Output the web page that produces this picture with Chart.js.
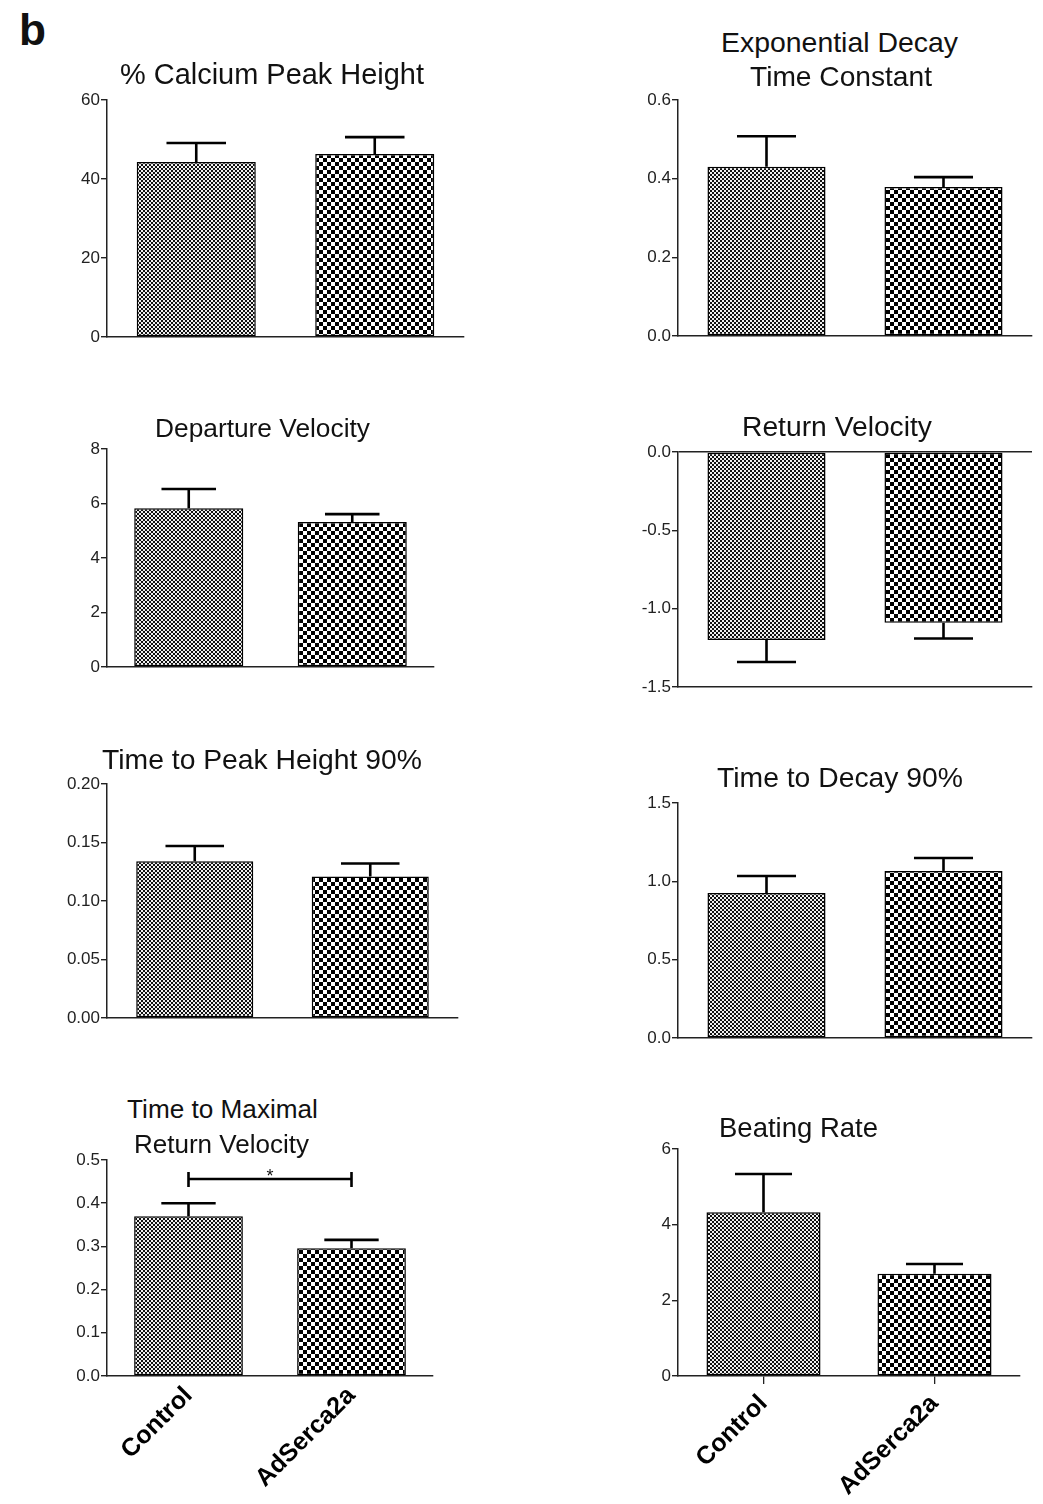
<!DOCTYPE html>
<html>
<head>
<meta charset="utf-8">
<script src="https://cdn.jsdelivr.net/npm/chart.js@4/dist/chart.umd.min.js"></script>
<style>
  html, body { margin: 0; padding: 0; background: #fff; }
  #stage { position: relative; width: 1043px; height: 1504px; overflow: hidden; background: #fff; }
  .txt { position: absolute; white-space: nowrap; text-align: center; font-family: "Liberation Sans", Arial, Helvetica, sans-serif; color: #111; }
  canvas { position: absolute; }
</style>
</head>
<body>
<div id="stage"></div>
<script>
// ---------------- DATA ----------------
const categories = ['Control', 'AdSerca2a'];

const calciumPeakMean = [44.3, 46.3];
const calciumPeakSem  = [4.8, 4.3];
const calciumTicks    = [0, 20, 40, 60];
const calciumTickLabels = ['0', '20', '40', '60'];

const decayConstMean = [0.430, 0.379];
const decayConstSem  = [0.078, 0.025];
const decayConstTicks = [0, 0.2, 0.4, 0.6];
const decayConstTickLabels = ['0.0', '0.2', '0.4', '0.6'];

const departureMean = [5.83, 5.32];
const departureSem  = [0.70, 0.29];
const departureTicks = [0, 2, 4, 6, 8];
const departureTickLabels = ['0', '2', '4', '6', '8'];

const returnVelMean = [-1.20, -1.09];
const returnVelSem  = [0.14, 0.10];
const returnVelTicks = [-1.5, -1.0, -0.5, 0];
const returnVelTickLabels = ['-1.5', '-1.0', '-0.5', '0.0'];

const timePeakMean = [0.134, 0.121];
const timePeakSem  = [0.013, 0.011];
const timePeakTicks = [0, 0.05, 0.10, 0.15, 0.20];
const timePeakTickLabels = ['0.00', '0.05', '0.10', '0.15', '0.20'];

const timeDecayMean = [0.926, 1.066];
const timeDecaySem  = [0.108, 0.083];
const timeDecayTicks = [0, 0.5, 1.0, 1.5];
const timeDecayTickLabels = ['0.0', '0.5', '1.0', '1.5'];

const timeMaxRetMean = [0.370, 0.296];
const timeMaxRetSem  = [0.030, 0.019];
const timeMaxRetTicks = [0, 0.1, 0.2, 0.3, 0.4, 0.5];
const timeMaxRetTickLabels = ['0.0', '0.1', '0.2', '0.3', '0.4', '0.5'];
const timeMaxRetSig = { from: 0, to: 1, value: 0.456, label: '*' };

const beatRateMean = [4.33, 2.70];
const beatRateSem  = [1.01, 0.26];
const beatRateTicks = [0, 2, 4, 6];
const beatRateTickLabels = ['0', '2', '4', '6'];

// ---------------- RENDERING ----------------
const FONT = '"Liberation Sans", Arial, Helvetica, sans-serif';
const stage = document.getElementById('stage');
const mctx = document.createElement('canvas').getContext('2d');

function addText(text, x0, x1, baseline, weight) {
  weight = weight || 'normal';
  mctx.font = weight + ' 100px ' + FONT;
  const w100 = mctx.measureText(text).width;
  const fs = 100 * (x1 - x0) / w100;
  const d = document.createElement('div');
  d.className = 'txt';
  d.textContent = text;
  d.style.fontWeight = weight;
  d.style.fontSize = fs + 'px';
  d.style.lineHeight = fs + 'px';
  d.style.left = (x0 - 60) + 'px';
  d.style.width = (x1 - x0 + 120) + 'px';
  d.style.top = (baseline - 0.8465 * fs) + 'px';
  stage.appendChild(d);
}

function makePattern(cell, dark, light) {
  const c = document.createElement('canvas');
  c.width = cell * 2; c.height = cell * 2;
  const g = c.getContext('2d');
  g.fillStyle = light; g.fillRect(0, 0, cell * 2, cell * 2);
  g.fillStyle = dark;
  g.fillRect(0, 0, cell, cell);
  g.fillRect(cell, cell, cell, cell);
  return g.createPattern(c, 'repeat');
}
const finePattern = makePattern(2, '#111', '#f0f0f0');
const coarsePattern = makePattern(4, '#000', '#fff');

const errorBarPlugin = {
  id: 'errorBars',
  afterDatasetsDraw(chart) {
    const ds = chart.data.datasets[0];
    const meta = chart.getDatasetMeta(0);
    const y = chart.scales.y;
    const ctx = chart.ctx;
    ctx.save();
    ctx.strokeStyle = '#000';
    ctx.lineWidth = 2.6;
    ctx.lineCap = 'butt';
    meta.data.forEach((bar, i) => {
      const v = ds.data[i];
      const e = ds.errors[i];
      const sign = v < 0 ? -1 : 1;
      const yEnd = y.getPixelForValue(v + sign * e);
      const yStart = y.getPixelForValue(v);
      const half = bar.width * 0.25;
      ctx.beginPath();
      ctx.moveTo(bar.x, yStart);
      ctx.lineTo(bar.x, yEnd);
      ctx.moveTo(bar.x - half, yEnd);
      ctx.lineTo(bar.x + half, yEnd);
      ctx.stroke();
    });
    ctx.restore();
  }
};

const sigPlugin = {
  id: 'sigBracket',
  afterDatasetsDraw(chart, args, opts) {
    if (!opts || !opts.sig) return;
    const s = opts.sig;
    const meta = chart.getDatasetMeta(0);
    const x0 = meta.data[s.from].x, x1 = meta.data[s.to].x;
    const yy = chart.scales.y.getPixelForValue(s.value);
    const ctx = chart.ctx;
    ctx.save();
    ctx.strokeStyle = '#000';
    ctx.lineWidth = 2.6;
    ctx.beginPath();
    ctx.moveTo(x0, yy); ctx.lineTo(x1, yy);
    ctx.moveTo(x0, yy - 7); ctx.lineTo(x0, yy + 8);
    ctx.moveTo(x1, yy - 7); ctx.lineTo(x1, yy + 8);
    ctx.stroke();
    ctx.fillStyle = '#111';
    ctx.font = '18px ' + FONT;
    ctx.textAlign = 'center';
    ctx.textBaseline = 'alphabetic';
    ctx.fillText(s.label, (x0 + x1) / 2, yy + 3);
    ctx.restore();
  }
};

function buildPanel(p) {
  const padTop = 14, padRight = 10, yW = 80;
  const xH = p.xLabels ? 150 : 16;
  const left = p.ax - yW, top = p.top - padTop;
  const w = (p.right - p.ax) + yW + padRight;
  const h = (p.bottom - p.top) + padTop + xH;
  const cv = document.createElement('canvas');
  cv.width = w; cv.height = h;
  cv.style.left = left + 'px'; cv.style.top = top + 'px';
  cv.style.width = w + 'px'; cv.style.height = h + 'px';
  stage.appendChild(cv);

  const hasZeroLine = p.ticks[0] < 0;

  new Chart(cv, {
    type: 'bar',
    data: {
      labels: categories,
      datasets: [{
        data: p.mean,
        errors: p.sem,
        backgroundColor: [finePattern, coarsePattern],
        borderColor: '#000',
        borderWidth: 1.5,
        borderSkipped: false,
        barPercentage: 0.667,
        categoryPercentage: 1.0
      }]
    },
    options: {
      responsive: false,
      animation: false,
      devicePixelRatio: 1,
      layout: { padding: { top: padTop, right: padRight, left: 0, bottom: 0 } },
      plugins: {
        legend: { display: false },
        tooltip: { enabled: false },
        title: { display: false },
        sigBracket: { sig: p.sig || null }
      },
      scales: {
        x: {
          offset: true,
          grid: {
            display: true,
            drawOnChartArea: false,
            drawTicks: !!p.xTicks,
            tickLength: 8,
            offset: false,
            color: '#222',
            tickColor: '#222',
            lineWidth: 1.3
          },
          border: { display: true, color: '#222', width: 1.5 },
          ticks: {
            display: !!p.xLabels,
            autoSkip: false,
            minRotation: 45,
            maxRotation: 45,
            padding: p.xTicks ? 5 : 5,
            color: '#000',
            font: { family: FONT, size: 25, weight: 'bold' }
          },
          afterFit(scale) {
            scale.height = xH;
            scale.paddingLeft = 0; scale.paddingRight = 0;
          }
        },
        y: {
          min: p.ticks[0],
          max: p.ticks[p.ticks.length - 1],
          afterBuildTicks(scale) {
            scale.ticks = p.ticks.map(v => ({ value: v }));
          },
          grid: {
            display: true,
            drawOnChartArea: hasZeroLine,
            drawTicks: true,
            tickLength: 6,
            color: (c) => (hasZeroLine && c.tick && c.tick.value === 0) ? '#222' : 'rgba(0,0,0,0)',
            tickColor: '#222',
            lineWidth: 1.4
          },
          border: { display: true, color: '#222', width: 1.5 },
          ticks: {
            padding: 1,
            color: '#222',
            font: { family: FONT, size: 17 },
            callback: (val, idx) => p.tickLabels[idx]
          },
          afterFit(scale) {
            scale.width = yW;
            scale.paddingTop = 0; scale.paddingBottom = 0;
          }
        }
      }
    },
    plugins: [errorBarPlugin, sigPlugin]
  });

  p.titles.forEach(t => addText(t[0], t[1], t[2], t[3]));
}

const panels = [
  { mean: calciumPeakMean, sem: calciumPeakSem, ticks: calciumTicks, tickLabels: calciumTickLabels,
    ax: 107, top: 100, right: 464, bottom: 337,
    titles: [['% Calcium Peak Height', 120, 424, 84]] },
  { mean: decayConstMean, sem: decayConstSem, ticks: decayConstTicks, tickLabels: decayConstTickLabels,
    ax: 678, top: 100, right: 1032, bottom: 336,
    titles: [['Exponential Decay', 721, 958, 52], ['Time Constant', 750, 932, 87]] },
  { mean: departureMean, sem: departureSem, ticks: departureTicks, tickLabels: departureTickLabels,
    ax: 107, top: 449, right: 434, bottom: 667,
    titles: [['Departure Velocity', 155, 370, 437]] },
  { mean: returnVelMean, sem: returnVelSem, ticks: returnVelTicks, tickLabels: returnVelTickLabels,
    ax: 678, top: 452, right: 1032, bottom: 687,
    titles: [['Return Velocity', 742, 932, 436]] },
  { mean: timePeakMean, sem: timePeakSem, ticks: timePeakTicks, tickLabels: timePeakTickLabels,
    ax: 107, top: 784, right: 458, bottom: 1018,
    titles: [['Time to Peak Height 90%', 102, 422, 769]] },
  { mean: timeDecayMean, sem: timeDecaySem, ticks: timeDecayTicks, tickLabels: timeDecayTickLabels,
    ax: 678, top: 803, right: 1032, bottom: 1038,
    titles: [['Time to Decay 90%', 717, 963, 787]] },
  { mean: timeMaxRetMean, sem: timeMaxRetSem, ticks: timeMaxRetTicks, tickLabels: timeMaxRetTickLabels,
    ax: 107, top: 1160, right: 433, bottom: 1376, xLabels: true, sig: timeMaxRetSig,
    titles: [['Time to Maximal', 127, 318, 1118], ['Return Velocity', 134, 309, 1153]] },
  { mean: beatRateMean, sem: beatRateSem, ticks: beatRateTicks, tickLabels: beatRateTickLabels,
    ax: 678, top: 1149, right: 1020, bottom: 1376, xLabels: true, xTicks: true,
    titles: [['Beating Rate', 719, 878, 1137]] }
];

panels.forEach(buildPanel);
addText('b', 19, 46, 45, 'bold');
</script>
</body>
</html>
